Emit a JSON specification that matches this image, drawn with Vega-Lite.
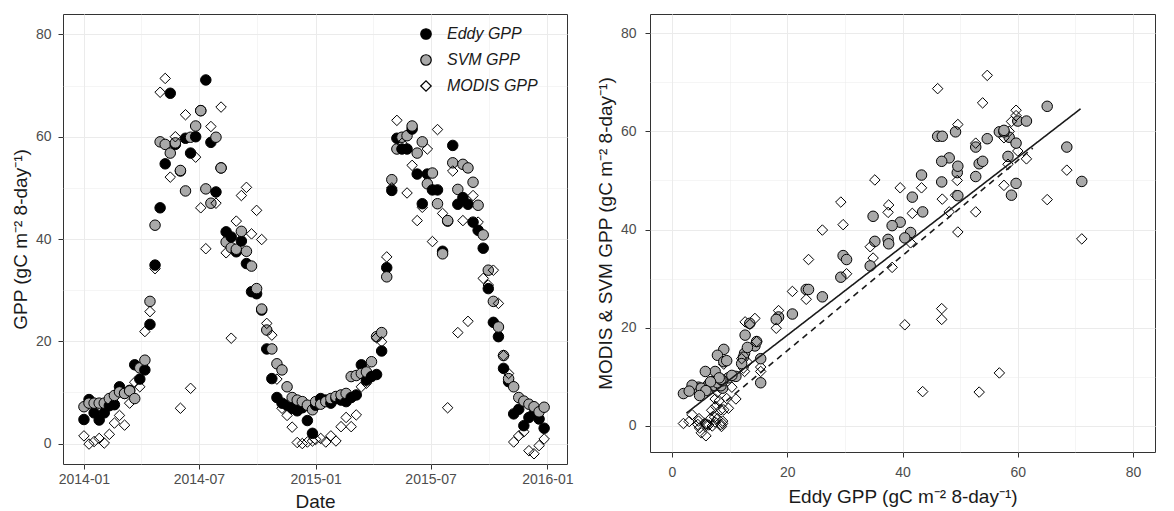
{
  "$schema": "https://vega.github.io/schema/vega-lite/v6.json",
  "padding": {"left": 10, "top": 13, "right": 5, "bottom": 0},
  "config": {
    "font": "Liberation Sans",
    "view": {"stroke": "#333333", "strokeWidth": 1},
    "axis": {
      "domain": false, "grid": true, "gridColor": "#ebebeb",
      "tickColor": "#333333", "tickSize": 5, "tickWidth": 1,
      "labelColor": "#4d4d4d", "labelFontSize": 14, "labelFont": "Liberation Sans",
      "titleFontSize": 19, "titleFontWeight": "normal", "titleColor": "#1a1a1a", "titleFont": "Liberation Sans",
      "labelFlush": false, "labelOverlap": false
    }
  },
  "datasets": {
    "gpp": [
      {"Date": "2014-01-01", "Eddy GPP": 4.7, "SVM GPP": 7.2, "MODIS GPP": 1.5},
      {"Date": "2014-01-09", "Eddy GPP": 8.6, "SVM GPP": 7.9, "MODIS GPP": -0.1},
      {"Date": "2014-01-17", "Eddy GPP": 6.0, "SVM GPP": 7.9, "MODIS GPP": 0.4},
      {"Date": "2014-01-25", "Eddy GPP": 4.6, "SVM GPP": 7.9, "MODIS GPP": 1.0},
      {"Date": "2014-02-02", "Eddy GPP": 6.0, "SVM GPP": 7.9, "MODIS GPP": 0.1},
      {"Date": "2014-02-10", "Eddy GPP": 7.4, "SVM GPP": 8.8, "MODIS GPP": 1.8},
      {"Date": "2014-02-18", "Eddy GPP": 7.6, "SVM GPP": 9.4, "MODIS GPP": 4.0},
      {"Date": "2014-02-26", "Eddy GPP": 11.1, "SVM GPP": 10.1, "MODIS GPP": 5.5},
      {"Date": "2014-03-06", "Eddy GPP": 9.8, "SVM GPP": 9.8, "MODIS GPP": 3.6},
      {"Date": "2014-03-14", "Eddy GPP": 10.4, "SVM GPP": 10.3, "MODIS GPP": 7.9},
      {"Date": "2014-03-22", "Eddy GPP": 15.4, "SVM GPP": 8.8, "MODIS GPP": 12.0},
      {"Date": "2014-03-30", "Eddy GPP": 12.6, "SVM GPP": 14.8, "MODIS GPP": 11.1},
      {"Date": "2014-04-07", "Eddy GPP": 14.4, "SVM GPP": 16.3, "MODIS GPP": 21.9},
      {"Date": "2014-04-15", "Eddy GPP": 23.3, "SVM GPP": 27.8, "MODIS GPP": 25.8},
      {"Date": "2014-04-23", "Eddy GPP": 34.9, "SVM GPP": 42.7, "MODIS GPP": 34.2},
      {"Date": "2014-05-01", "Eddy GPP": 46.1, "SVM GPP": 59.0, "MODIS GPP": 68.7},
      {"Date": "2014-05-09", "Eddy GPP": 54.7, "SVM GPP": 58.5, "MODIS GPP": 71.4},
      {"Date": "2014-05-17", "Eddy GPP": 68.5, "SVM GPP": 56.8, "MODIS GPP": 52.1},
      {"Date": "2014-05-25", "Eddy GPP": 58.5, "SVM GPP": 58.8, "MODIS GPP": 60.0},
      {"Date": "2014-06-02", "Eddy GPP": 53.3, "SVM GPP": 53.4, "MODIS GPP": 6.9},
      {"Date": "2014-06-10", "Eddy GPP": 59.7, "SVM GPP": 49.4, "MODIS GPP": 64.3},
      {"Date": "2014-06-18", "Eddy GPP": 56.8, "SVM GPP": 59.9, "MODIS GPP": 10.8},
      {"Date": "2014-06-26", "Eddy GPP": 60.0, "SVM GPP": 62.1, "MODIS GPP": 56.0},
      {"Date": "2014-07-04", "Eddy GPP": 65.1, "SVM GPP": 65.1, "MODIS GPP": 46.1},
      {"Date": "2014-07-12", "Eddy GPP": 71.1, "SVM GPP": 49.8, "MODIS GPP": 38.1},
      {"Date": "2014-07-20", "Eddy GPP": 58.9, "SVM GPP": 47.0, "MODIS GPP": 62.0},
      {"Date": "2014-07-28", "Eddy GPP": 49.2, "SVM GPP": 59.9, "MODIS GPP": 47.0},
      {"Date": "2014-08-05", "Eddy GPP": 53.9, "SVM GPP": 53.9, "MODIS GPP": 65.8},
      {"Date": "2014-08-13", "Eddy GPP": 41.4, "SVM GPP": 39.4, "MODIS GPP": 37.3},
      {"Date": "2014-08-21", "Eddy GPP": 40.4, "SVM GPP": 38.3, "MODIS GPP": 20.6},
      {"Date": "2014-08-29", "Eddy GPP": 37.5, "SVM GPP": 38.0, "MODIS GPP": 43.5},
      {"Date": "2014-09-06", "Eddy GPP": 39.6, "SVM GPP": 41.5, "MODIS GPP": 48.5},
      {"Date": "2014-09-14", "Eddy GPP": 35.2, "SVM GPP": 37.6, "MODIS GPP": 50.1},
      {"Date": "2014-09-22", "Eddy GPP": 29.7, "SVM GPP": 34.7, "MODIS GPP": 41.0},
      {"Date": "2014-09-30", "Eddy GPP": 29.3, "SVM GPP": 30.3, "MODIS GPP": 45.6},
      {"Date": "2014-10-08", "Eddy GPP": 26.1, "SVM GPP": 26.3, "MODIS GPP": 39.9},
      {"Date": "2014-10-16", "Eddy GPP": 18.5, "SVM GPP": 22.2, "MODIS GPP": 23.5},
      {"Date": "2014-10-24", "Eddy GPP": 12.7, "SVM GPP": 18.5, "MODIS GPP": 21.2},
      {"Date": "2014-11-01", "Eddy GPP": 9.0, "SVM GPP": 15.6, "MODIS GPP": 12.6},
      {"Date": "2014-11-09", "Eddy GPP": 7.9, "SVM GPP": 14.4, "MODIS GPP": 6.9},
      {"Date": "2014-11-17", "Eddy GPP": 7.5, "SVM GPP": 11.1, "MODIS GPP": 5.5},
      {"Date": "2014-11-25", "Eddy GPP": 6.9, "SVM GPP": 9.0, "MODIS GPP": 3.2},
      {"Date": "2014-12-03", "Eddy GPP": 6.4, "SVM GPP": 8.5, "MODIS GPP": 0.2},
      {"Date": "2014-12-11", "Eddy GPP": 7.0, "SVM GPP": 8.2, "MODIS GPP": 0.0},
      {"Date": "2014-12-19", "Eddy GPP": 4.5, "SVM GPP": 7.5, "MODIS GPP": 0.3},
      {"Date": "2014-12-27", "Eddy GPP": 2.0, "SVM GPP": 6.6, "MODIS GPP": 0.5},
      {"Date": "2015-01-01", "Eddy GPP": 7.5, "SVM GPP": 8.2, "MODIS GPP": 0.8},
      {"Date": "2015-01-09", "Eddy GPP": 8.8, "SVM GPP": 7.7, "MODIS GPP": 1.0},
      {"Date": "2015-01-17", "Eddy GPP": 8.5, "SVM GPP": 8.2, "MODIS GPP": 0.3},
      {"Date": "2015-01-25", "Eddy GPP": 7.9, "SVM GPP": 8.8, "MODIS GPP": 1.5},
      {"Date": "2015-02-02", "Eddy GPP": 8.8, "SVM GPP": 9.2, "MODIS GPP": 0.5},
      {"Date": "2015-02-10", "Eddy GPP": 8.5, "SVM GPP": 9.5, "MODIS GPP": 3.3},
      {"Date": "2015-02-18", "Eddy GPP": 8.2, "SVM GPP": 9.8, "MODIS GPP": 5.1},
      {"Date": "2015-02-26", "Eddy GPP": 9.0, "SVM GPP": 13.1, "MODIS GPP": 3.3},
      {"Date": "2015-03-06", "Eddy GPP": 9.5, "SVM GPP": 13.3, "MODIS GPP": 5.6},
      {"Date": "2015-03-14", "Eddy GPP": 15.4, "SVM GPP": 13.7, "MODIS GPP": 11.1},
      {"Date": "2015-03-22", "Eddy GPP": 12.4, "SVM GPP": 14.0, "MODIS GPP": 11.8},
      {"Date": "2015-03-30", "Eddy GPP": 13.1, "SVM GPP": 16.0, "MODIS GPP": 13.0},
      {"Date": "2015-04-07", "Eddy GPP": 13.5, "SVM GPP": 20.9, "MODIS GPP": 20.7},
      {"Date": "2015-04-15", "Eddy GPP": 18.1, "SVM GPP": 21.7, "MODIS GPP": 19.9},
      {"Date": "2015-04-23", "Eddy GPP": 34.4, "SVM GPP": 32.6, "MODIS GPP": 36.5},
      {"Date": "2015-05-01", "Eddy GPP": 49.5, "SVM GPP": 51.6, "MODIS GPP": 50.0},
      {"Date": "2015-05-09", "Eddy GPP": 59.7, "SVM GPP": 57.6, "MODIS GPP": 63.2},
      {"Date": "2015-05-17", "Eddy GPP": 57.6, "SVM GPP": 59.9, "MODIS GPP": 58.7},
      {"Date": "2015-05-25", "Eddy GPP": 57.6, "SVM GPP": 60.2, "MODIS GPP": 49.0},
      {"Date": "2015-06-02", "Eddy GPP": 61.5, "SVM GPP": 62.1, "MODIS GPP": 54.4},
      {"Date": "2015-06-10", "Eddy GPP": 52.7, "SVM GPP": 56.8, "MODIS GPP": 43.6},
      {"Date": "2015-06-18", "Eddy GPP": 46.9, "SVM GPP": 59.0, "MODIS GPP": 46.2},
      {"Date": "2015-06-26", "Eddy GPP": 52.7, "SVM GPP": 50.8, "MODIS GPP": 57.6},
      {"Date": "2015-07-04", "Eddy GPP": 49.6, "SVM GPP": 52.9, "MODIS GPP": 39.5},
      {"Date": "2015-07-12", "Eddy GPP": 49.6, "SVM GPP": 46.9, "MODIS GPP": 61.4},
      {"Date": "2015-07-20", "Eddy GPP": 37.6, "SVM GPP": 37.1, "MODIS GPP": 45.0},
      {"Date": "2015-07-28", "Eddy GPP": 43.5, "SVM GPP": 43.6, "MODIS GPP": 7.0},
      {"Date": "2015-08-05", "Eddy GPP": 58.3, "SVM GPP": 54.9, "MODIS GPP": 53.3},
      {"Date": "2015-08-13", "Eddy GPP": 46.8, "SVM GPP": 49.7, "MODIS GPP": 21.7},
      {"Date": "2015-08-21", "Eddy GPP": 48.1, "SVM GPP": 54.6, "MODIS GPP": 43.6},
      {"Date": "2015-08-29", "Eddy GPP": 46.8, "SVM GPP": 53.9, "MODIS GPP": 23.9},
      {"Date": "2015-09-06", "Eddy GPP": 43.3, "SVM GPP": 51.1, "MODIS GPP": 48.5},
      {"Date": "2015-09-14", "Eddy GPP": 41.7, "SVM GPP": 46.6, "MODIS GPP": 43.3},
      {"Date": "2015-09-22", "Eddy GPP": 38.2, "SVM GPP": 40.8, "MODIS GPP": 32.3},
      {"Date": "2015-09-30", "Eddy GPP": 30.3, "SVM GPP": 33.9, "MODIS GPP": 31.0},
      {"Date": "2015-10-08", "Eddy GPP": 23.7, "SVM GPP": 27.8, "MODIS GPP": 33.9},
      {"Date": "2015-10-16", "Eddy GPP": 20.9, "SVM GPP": 22.8, "MODIS GPP": 27.4},
      {"Date": "2015-10-24", "Eddy GPP": 14.7, "SVM GPP": 17.2, "MODIS GPP": 17.2},
      {"Date": "2015-11-01", "Eddy GPP": 12.1, "SVM GPP": 12.7, "MODIS GPP": 13.7},
      {"Date": "2015-11-09", "Eddy GPP": 5.8, "SVM GPP": 11.1, "MODIS GPP": 0.3},
      {"Date": "2015-11-17", "Eddy GPP": 6.7, "SVM GPP": 9.0, "MODIS GPP": 1.5},
      {"Date": "2015-11-25", "Eddy GPP": 3.5, "SVM GPP": 8.3, "MODIS GPP": 2.3},
      {"Date": "2015-12-03", "Eddy GPP": 5.1, "SVM GPP": 7.7, "MODIS GPP": -1.4},
      {"Date": "2015-12-11", "Eddy GPP": 5.9, "SVM GPP": 7.2, "MODIS GPP": -2.0},
      {"Date": "2015-12-19", "Eddy GPP": 4.8, "SVM GPP": 6.2, "MODIS GPP": -0.4},
      {"Date": "2015-12-27", "Eddy GPP": 3.0, "SVM GPP": 7.1, "MODIS GPP": 0.9}
    ],
    "fits": [
      {"Fit": "MODIS", "Eddy GPP": 2.5, "Fitted GPP": 2.6},
      {"Fit": "MODIS", "Eddy GPP": 70.9, "Fitted GPP": 64.6},
      {"Fit": "SVM", "Eddy GPP": 5.0, "Fitted GPP": 0.8},
      {"Fit": "SVM", "Eddy GPP": 62.6, "Fitted GPP": 56.6}
    ]
  },
  "spacing": 21,
  "resolve": {"scale": {"x": "independent", "y": "independent", "fill": "independent", "shape": "independent", "stroke": "independent"}},
  "hconcat": [
    {
      "width": 504,
      "height": 450,
      "layer": [
        {
          "data": {"name": "gpp"},
          "transform": [{"fold": ["Eddy GPP", "SVM GPP", "MODIS GPP"], "as": ["Series", "GPP"]}],
          "mark": {"type": "point", "filled": true, "strokeWidth": 1, "opacity": 1, "size": 110},
          "encoding": {
            "x": {
              "field": "Date", "type": "temporal", "title": "Date",
              "scale": {"type": "utc", "domain": [{"year": 2013, "month": 11, "date": 29, "utc": true}, {"year": 2016, "month": 2, "date": 1, "utc": true}]},
              "axis": {
                "values": [
                  {"year": 2014, "month": 1, "date": 1, "utc": true},
                  {"year": 2014, "month": 4, "date": 1, "utc": true},
                  {"year": 2014, "month": 7, "date": 1, "utc": true},
                  {"year": 2014, "month": 10, "date": 1, "utc": true},
                  {"year": 2015, "month": 1, "date": 1, "utc": true},
                  {"year": 2015, "month": 4, "date": 1, "utc": true},
                  {"year": 2015, "month": 7, "date": 1, "utc": true},
                  {"year": 2015, "month": 10, "date": 1, "utc": true},
                  {"year": 2016, "month": 1, "date": 1, "utc": true}
                ],
                "labelExpr": "utcmonth(datum.value) % 6 === 0 ? utcFormat(datum.value, '%Y-%m') : ''",
                "tickOpacity": {"condition": {"test": "utcmonth(datum.value) % 6 === 0", "value": 1}, "value": 0},
                "gridWidth": {"condition": {"test": "utcmonth(datum.value) % 6 === 0", "value": 1}, "value": 0.5},
                "labelPadding": 3, "titlePadding": 6
              }
            },
            "y": {
              "field": "GPP", "type": "quantitative", "title": "GPP (gC m⁻² 8-day⁻¹)",
              "scale": {"domain": [-4, 84], "nice": false, "zero": false},
              "axis": {
                "values": [0, 10, 20, 30, 40, 50, 60, 70, 80],
                "labelExpr": "datum.value % 20 === 0 ? datum.label : ''",
                "tickOpacity": {"condition": {"test": "datum.value % 20 === 0", "value": 1}, "value": 0},
                "gridWidth": {"condition": {"test": "datum.value % 20 === 0", "value": 1}, "value": 0.5},
                "labelPadding": 7, "titlePadding": 5
              }
            },
            "shape": {
              "field": "Series", "type": "nominal",
              "scale": {"domain": ["Eddy GPP", "SVM GPP", "MODIS GPP"], "range": ["circle", "circle", "diamond"]},
              "legend": {"title": null, "orient": "none", "legendX": 355, "legendY": 12, "padding": 0, "labelFontSize": 16, "labelFontStyle": "italic", "labelColor": "#1a1a1a", "symbolSize": 110, "symbolStrokeWidth": 1.2, "rowPadding": 10, "labelOffset": 13}
            },
            "fill": {
              "field": "Series", "type": "nominal",
              "scale": {"domain": ["Eddy GPP", "SVM GPP", "MODIS GPP"], "range": ["#000000", "#a9a9a9", "rgba(255,255,255,0)"]},
              "legend": {"title": null, "orient": "none", "legendX": 355, "legendY": 12, "padding": 0, "labelFontSize": 16, "labelFontStyle": "italic", "labelColor": "#1a1a1a", "symbolSize": 110, "symbolStrokeWidth": 1.2, "rowPadding": 10, "labelOffset": 13}
            },
            "stroke": {
              "field": "Series", "type": "nominal",
              "scale": {"domain": ["Eddy GPP", "SVM GPP", "MODIS GPP"], "range": ["#000000", "#000000", "#000000"]},
              "legend": {"title": null, "orient": "none", "legendX": 355, "legendY": 12, "padding": 0, "labelFontSize": 16, "labelFontStyle": "italic", "labelColor": "#1a1a1a", "symbolSize": 110, "symbolStrokeWidth": 1.2, "rowPadding": 10, "labelOffset": 13}
            }
          }
        },
        {
          "mark": {"type": "text", "text": "GDK", "fontSize": 20, "fontStyle": "italic", "color": "#1a1a1a", "align": "center", "baseline": "middle"},
          "encoding": {
            "x": {"datum": {"year": 2014, "month": 2, "date": 5, "utc": true}, "type": "temporal", "title": "Date"},
            "y": {"datum": 79.8, "type": "quantitative", "title": "GPP (gC m⁻² 8-day⁻¹)"}
          }
        }
      ]
    },
    {
      "width": 505,
      "height": 438,
      "layer": [
        {
          "data": {"name": "gpp"},
          "transform": [{"fold": ["SVM GPP", "MODIS GPP"], "as": ["Series", "GPP"]}],
          "mark": {"type": "point", "filled": true, "stroke": "#000000", "strokeWidth": 1, "opacity": 1, "size": 110},
          "encoding": {
            "x": {
              "field": "Eddy GPP", "type": "quantitative", "title": "Eddy GPP (gC m⁻² 8-day⁻¹)",
              "scale": {"domain": [-3.8, 83.8], "nice": false, "zero": false},
              "axis": {
                "values": [0, 10, 20, 30, 40, 50, 60, 70, 80],
                "labelExpr": "datum.value % 20 === 0 ? datum.label : ''",
                "tickOpacity": {"condition": {"test": "datum.value % 20 === 0", "value": 1}, "value": 0},
                "gridWidth": {"condition": {"test": "datum.value % 20 === 0", "value": 1}, "value": 0.5},
                "labelPadding": 8, "titlePadding": 8
              }
            },
            "y": {
              "field": "GPP", "type": "quantitative", "title": "MODIS & SVM GPP (gC m⁻² 8-day⁻¹)",
              "scale": {"domain": [-5.3, 83.9], "nice": false, "zero": false},
              "axis": {
                "values": [0, 10, 20, 30, 40, 50, 60, 70, 80],
                "labelExpr": "datum.value % 20 === 0 ? datum.label : ''",
                "tickOpacity": {"condition": {"test": "datum.value % 20 === 0", "value": 1}, "value": 0},
                "gridWidth": {"condition": {"test": "datum.value % 20 === 0", "value": 1}, "value": 0.5},
                "labelPadding": 9, "titlePadding": 5
              }
            },
            "shape": {
              "field": "Series", "type": "nominal",
              "scale": {"domain": ["SVM GPP", "MODIS GPP"], "range": ["circle", "diamond"]},
              "legend": null
            },
            "fill": {
              "field": "Series", "type": "nominal",
              "scale": {"domain": ["SVM GPP", "MODIS GPP"], "range": ["#a9a9a9", "rgba(255,255,255,0)"]},
              "legend": null
            }
          }
        },
        {
          "data": {"name": "fits"},
          "mark": {"type": "line", "color": "#1a1a1a", "strokeWidth": 1.6},
          "encoding": {
            "x": {"field": "Eddy GPP", "type": "quantitative", "title": "Eddy GPP (gC m⁻² 8-day⁻¹)"},
            "y": {"field": "Fitted GPP", "type": "quantitative", "title": "MODIS & SVM GPP (gC m⁻² 8-day⁻¹)"},
            "strokeDash": {"field": "Fit", "type": "nominal", "scale": {"domain": ["MODIS", "SVM"], "range": [[1, 0], [6, 5]]}, "legend": null}
          }
        },
        {
          "mark": {"type": "text", "text": "GDK", "fontSize": 20, "fontStyle": "italic", "color": "#1a1a1a", "align": "center", "baseline": "middle"},
          "encoding": {
            "x": {"datum": 10.2, "type": "quantitative", "title": "Eddy GPP (gC m⁻² 8-day⁻¹)"},
            "y": {"datum": 79.8, "type": "quantitative", "title": "MODIS & SVM GPP (gC m⁻² 8-day⁻¹)"}
          }
        },
        {
          "mark": {"type": "text", "text": "y = 7.82 + 0.807 x    R² = 0.74", "fontSize": 15, "color": "#1a1a1a", "align": "left", "baseline": "middle"},
          "encoding": {
            "x": {"datum": 0.35, "type": "quantitative", "title": "Eddy GPP (gC m⁻² 8-day⁻¹)"},
            "y": {"datum": 72.8, "type": "quantitative", "title": "MODIS & SVM GPP (gC m⁻² 8-day⁻¹)"}
          }
        },
        {
          "mark": {"type": "text", "text": "(Eddy GPP vs. MODIS GPP)", "fontSize": 15, "fontStyle": "italic", "color": "#1a1a1a", "align": "left", "baseline": "middle"},
          "encoding": {
            "x": {"datum": 2.9, "type": "quantitative", "title": "Eddy GPP (gC m⁻² 8-day⁻¹)"},
            "y": {"datum": 67.8, "type": "quantitative", "title": "MODIS & SVM GPP (gC m⁻² 8-day⁻¹)"}
          }
        },
        {
          "mark": {"type": "text", "text": "y = − 1.66 + 0.992 x    R² = 0.94", "fontSize": 15, "color": "#1a1a1a", "align": "left", "baseline": "middle"},
          "encoding": {
            "x": {"datum": 0.35, "type": "quantitative", "title": "Eddy GPP (gC m⁻² 8-day⁻¹)"},
            "y": {"datum": 59.4, "type": "quantitative", "title": "MODIS & SVM GPP (gC m⁻² 8-day⁻¹)"}
          }
        },
        {
          "mark": {"type": "text", "text": "(Eddy GPP vs. SVM GPP)", "fontSize": 15, "fontStyle": "italic", "color": "#1a1a1a", "align": "left", "baseline": "middle"},
          "encoding": {
            "x": {"datum": 4.5, "type": "quantitative", "title": "Eddy GPP (gC m⁻² 8-day⁻¹)"},
            "y": {"datum": 54.5, "type": "quantitative", "title": "MODIS & SVM GPP (gC m⁻² 8-day⁻¹)"}
          }
        }
      ]
    }
  ]
}
